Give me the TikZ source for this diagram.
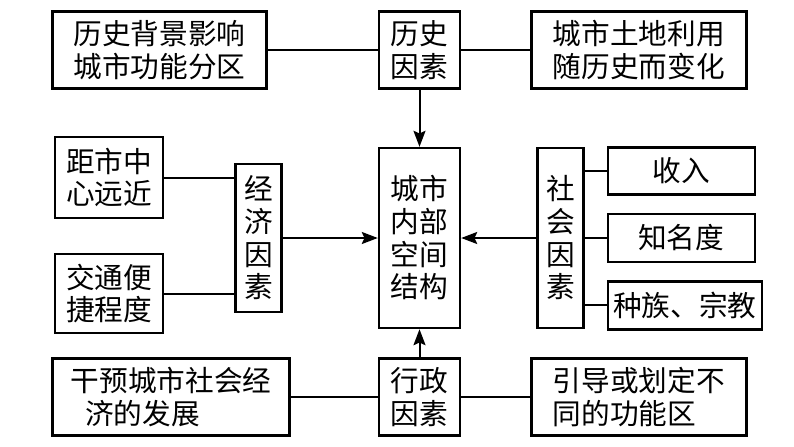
\documentclass[tikz,border=0pt]{standalone}
\usepackage{fontspec}
\setmainfont{Noto Sans CJK SC}
\usetikzlibrary{arrows.meta, positioning}

\tikzset{
	box/.style={draw, line width=1.8pt, inner sep=0pt, align=center,
		font=\fontsize{21.5}{24.5}\selectfont},
	link/.style={line width=1.5pt},
	feed/.style={line width=1.5pt, -{Stealth[length=12pt, width=9pt, inset=2pt]}},
}

\begin{document}
\begin{tikzpicture}[x=0.75pt, y=-0.75pt]
	\useasboundingbox (0,0) rectangle (794,447);

	\node[box, minimum width=60.75pt, minimum height=135pt] 	(C) at (419.5,238) 	{城市\\内部\\空间\\结构};
	\node[box, minimum width=60.75pt, minimum height=57.75pt] 	(H) [above	=42.75pt of C] 	{历史\\因素};
	\node[box, minimum width=60.75pt, minimum height=57.75pt] 	(A) [below	=21pt of C] 	{行政\\因素};

	\node[box, minimum width=160.5pt, minimum height=57.75pt] 	(H1) [left	=82.5pt of H] 	{历史背景影响\\城市功能分区};
	\node[box, minimum width=161.25pt, minimum height=57.75pt] 	(H2) [right	=51.75pt of H] 	{城市土地利用\\随历史而变化};
	\node[box, minimum width=177.75pt, minimum height=57.75pt, align=left] (A1) [left=65.25pt of A] {干预城市社会经\\\hspace*{0.5em}济的发展};
	\node[box, minimum width=161.25pt, minimum height=57.75pt, align=left] (A2) [right=51.75pt of A] {引导或划定不\\同的功能区};

	\node[box, minimum width=34.5pt, minimum height=111pt] 	(E) [left	=71.25pt of C] 	{经\\济\\因\\素};
	\node[box, minimum width=81pt, minimum height=60.75pt] 	(E1) at (109,177.5) 			{距市中\\心远近};
	\node[box, minimum width=81pt, minimum height=59.25pt] 	(E2) at (109,293.5) 			{交通便\\捷程度};

	\node[box, minimum width=34.5pt, minimum height=135pt] 	(S) [right	=56.25pt of C] 	{社\\会\\因\\素};
	\node[box, minimum width=110.25pt, minimum height=36pt] 	(S2) [right	=16.5pt of S] 	{知名度};
	\node[box, minimum width=110.25pt, minimum height=35.25pt] 	(S1) [above	=12.75pt of S2] {收入};
	\node[box, minimum width=115.5pt, minimum height=36pt] 	(S3) [below=12.75pt of S2.south west, anchor=north west] {种族、宗教};

	% side links
	\draw[link] (H1) -- (H) -- (H2);
	\draw[link] (A1) -- (A) -- (A2);
	\draw[link] (E1.east) -- (E1.east -| E.west);
	\draw[link] (E2.east) -- (E2.east -| E.west);
	\draw[link] (S1.west) -- (S1.west -| S.east);
	\draw[link] (S2.west) -- (S2.west -| S.east);
	\draw[link] (S3.west) -- (S3.west -| S.east);

	% into the centre
	\draw[feed] (H) -- (C);
	\draw[feed] (A) -- (C);
	\draw[feed] (E) -- (C);
	\draw[feed] (S) -- (C);
\end{tikzpicture}
\end{document}
